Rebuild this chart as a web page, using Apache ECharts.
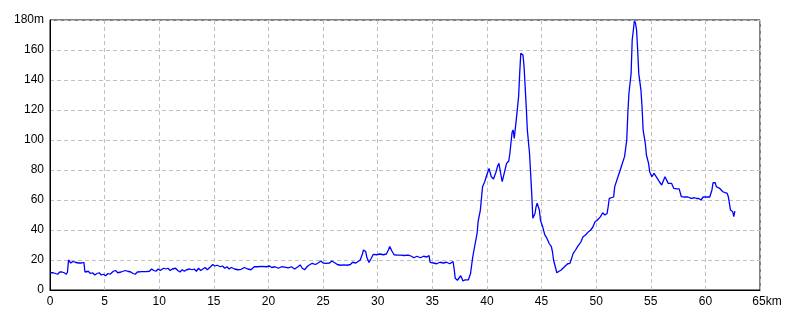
<!DOCTYPE html>
<html>
<head>
<meta charset="utf-8">
<style>html,body{margin:0;padding:0;background:#fff}#c{width:800px;height:320px}</style>
<script src="https://cdn.jsdelivr.net/npm/echarts@6/dist/echarts.min.js"></script>
</head>
<body>
<div id="c"></div>
<script>
var distKm = [0,0.3,0.5,0.7,0.9,1.1,1.3,1.5,1.6,1.7,1.9,2.1,2.3,2.6,2.9,3.1,3.2,3.5,3.7,3.9,4.1,4.3,4.5,4.7,4.9,5.1,5.3,5.5,5.8,6.0,6.2,6.5,6.9,7.1,7.4,7.6,7.8,8.0,8.4,8.8,9.1,9.3,9.5,9.7,9.9,10.1,10.4,10.6,10.8,11.0,11.2,11.5,11.7,11.9,12.1,12.3,12.5,12.8,13.0,13.2,13.4,13.6,13.8,14.0,14.2,14.4,14.7,14.9,15.1,15.3,15.6,15.8,16.0,16.2,16.4,16.6,16.9,17.2,17.5,17.8,18.1,18.4,18.7,19.0,19.4,19.8,20.1,20.3,20.6,20.9,21.2,21.5,21.8,22.1,22.4,22.7,22.9,23.1,23.3,23.6,24.0,24.3,24.5,24.8,25.0,25.3,25.6,25.8,26.1,26.3,26.6,26.9,27.2,27.5,27.7,28.0,28.2,28.4,28.6,28.7,28.9,29.0,29.2,29.4,29.6,29.9,30.2,30.5,30.8,31.0,31.1,31.3,31.5,31.8,32.1,32.4,32.8,33.1,33.3,33.6,33.9,34.2,34.5,34.7,34.8,35.1,35.4,35.7,36.0,36.3,36.6,36.9,37.0,37.1,37.3,37.4,37.6,37.7,37.8,38.0,38.3,38.5,38.7,38.9,39.1,39.2,39.4,39.6,39.8,40.0,40.2,40.4,40.6,40.8,41.0,41.1,41.3,41.4,41.5,41.8,42.0,42.1,42.3,42.4,42.5,42.7,42.9,43.0,43.1,43.3,43.4,43.6,43.7,43.9,44.0,44.1,44.2,44.4,44.5,44.6,44.8,44.9,45.1,45.3,45.5,45.7,45.9,46.0,46.1,46.4,46.6,46.8,47.1,47.4,47.6,47.9,48.1,48.3,48.6,48.8,49.0,49.3,49.5,49.7,49.9,50.1,50.4,50.6,50.8,51.0,51.1,51.2,51.6,51.7,52.0,52.3,52.6,52.8,52.9,53.0,53.2,53.3,53.4,53.5,53.6,53.7,53.8,53.9,54.1,54.2,54.3,54.5,54.6,54.8,54.9,55.1,55.3,55.4,55.6,55.8,56.0,56.3,56.4,56.6,56.9,57.1,57.4,57.6,57.8,58.1,58.4,58.7,59.0,59.2,59.4,59.6,59.8,60.1,60.4,60.6,60.7,60.9,61.0,61.3,61.6,62.0,62.1,62.3,62.5,62.6,62.7];
var elevM = [11.5,11.5,11,10.5,12,12,11.5,10.5,12,20,18,19,18.5,18,18,18.5,12,12.5,11,11.5,10,11,11.5,10,10.5,9.5,11,10.5,12.5,13,11.5,12,13,12.5,12,11,10.5,12,12.3,12.3,12.5,14,13,12.5,14,13,14.5,14,14.5,13,14,14.5,13,12,13.5,12.5,13.5,14,13.5,14,12.5,14.5,13,14,15,13.5,15.5,17,16,16.5,15.5,16,14.5,15.5,14,15,14,13.5,13.8,15,14,13.5,15.5,15.5,15.8,15.5,16,15,15.5,14.5,15.5,15.3,14.8,15.5,14,15.5,16.7,14.5,13.5,16,17.8,17,17.8,19.3,18,17.8,18,19.3,18,17,16.5,16.7,16.5,17,18.5,18,19,20,24,26.7,25.6,22,18.4,21,23.8,23.5,24,23.5,24,27,29,26,23.5,23.3,23.3,23,23.3,22.5,21.5,22.5,21.5,22.5,22,23,18.4,18,17.5,18.5,18,18.5,17.5,19,14,7.8,6.5,5.6,9.5,8,6,6.7,6.7,11,22,30,37.8,46,53.3,68.9,72.2,77,81,75.5,74,78,83,84.4,76,72.2,72.5,84.4,86,91,105,106.7,101,114.4,128.9,144.4,157.8,156.7,148.9,122,106.7,91,77.8,64.4,47.8,51,55.5,57.8,53.3,46.7,42.2,36.7,34.4,31,28.9,25.5,20,11.5,12.5,13.3,15.5,17.5,17.8,24.4,26.5,28.9,32,35.5,36.5,38.9,40,42,45.5,46.5,48.9,51.5,50,51,55.5,61.1,62,68.9,75.5,82.2,88.9,100,117.8,131,144.4,166.7,173,179.5,178,173.3,160,144.4,133.3,122.2,106.7,97.8,90,84.4,78.9,75.5,77.8,78.2,74.4,72,70,75.5,74.4,71.1,71.1,67.8,67.4,67.4,62.2,62,62,61.1,61.5,61,61,60,62,62,62,66.7,71.5,71.5,68.9,67.8,65.5,64.4,62.2,53.3,52.2,48.9,52.6];
var xTicks = [0,5,10,15,20,25,30,35,40,45,50,55,60,65];
var yTicks = [0,20,40,60,80,100,120,140,160,180];

var data = distKm.map(function(d, i){ return [d, elevM[i]]; });
var chart = echarts.init(document.getElementById('c'), null, {renderer:'canvas'});
var font = 'Liberation Sans';
chart.setOption({
  animation: false,
  backgroundColor: '#fff',
  grid: {left: 50, right: 40, top: 20, bottom: 30, show: true, borderColor: '#000', borderWidth: 1, backgroundColor: 'transparent'},
  xAxis: {
    type: 'value', min: xTicks[0], max: xTicks[xTicks.length-1], interval: 5,
    axisLine: {show: true, lineStyle: {color: '#000', width: 1}},
    axisTick: {show: false},
    splitLine: {show: true, lineStyle: {color: '#c0c0c0', type: [4,3], width: 1}},
    axisLabel: {
      color: '#000', fontFamily: font, fontSize: 12, margin: 6,
      formatter: function(v){ return v === 65 ? '{u|65km}' : String(v); },
      rich: {u: {color: '#000', fontFamily: font, fontSize: 12, padding: [0,0,0,14]}}
    }
  },
  yAxis: {
    type: 'value', min: yTicks[0], max: yTicks[yTicks.length-1], interval: 20,
    axisLine: {show: true, lineStyle: {color: '#000', width: 1}},
    axisTick: {show: false},
    splitLine: {show: true, lineStyle: {color: '#c0c0c0', type: [4,3], width: 1}},
    axisLabel: {
      color: '#000', fontFamily: font, fontSize: 12, margin: 6,
      formatter: function(v){ return v === 180 ? '180m' : String(v); }
    }
  },
  series: [{
    type: 'line', data: data, showSymbol: false, symbol: 'none',
    lineStyle: {color: '#0000ff', width: 1.3}, itemStyle: {color: '#0000ff'}
  }]
});
</script>
</body>
</html>
